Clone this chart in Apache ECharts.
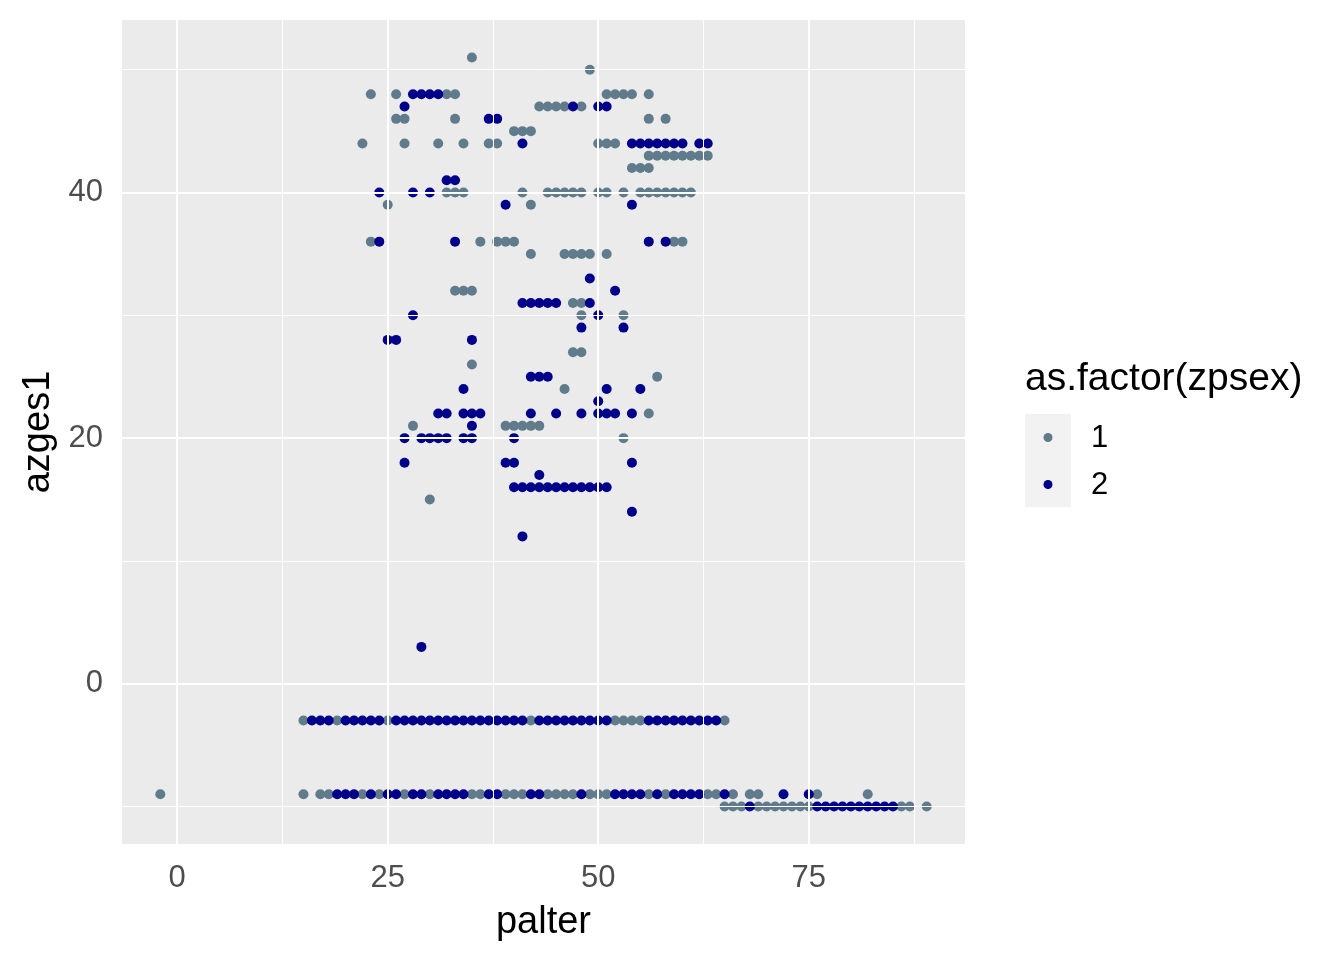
<!DOCTYPE html>
<html><head><meta charset="utf-8">
<script src="https://cdn.jsdelivr.net/npm/echarts@6/dist/echarts.min.js"></script>
<style>html,body{margin:0;padding:0;background:#fff}#c{width:1344px;height:960px}</style>
</head><body><div id="c"></div>
<script>
// zpsex = 1
const sex1Points = [
[35,51],[49,50],
[23,48],[26,48],[32,48],[33,48],[51,48],[52,48],[53,48],[54,48],[56,48],
[43,47],[44,47],[45,47],[46,47],[48,47],
[26,46],[27,46],[33,46],[56,46],[58,46],
[40,45],[41,45],[42,45],
[22,44],[27,44],[31,44],[34,44],[37,44],[38,44],[50,44],[51,44],[52,44],
[56,43],[57,43],[58,43],[59,43],[60,43],[61,43],[62,43],[63,43],
[54,42],[55,42],[56,42],
[32,40],[33,40],[34,40],[41,40],[44,40],[45,40],[46,40],[47,40],[48,40],[50,40],[51,40],[53,40],[55,40],[56,40],[57,40],[58,40],[59,40],[60,40],[61,40],
[25,39],[42,39],
[23,36],[36,36],[38,36],[39,36],[40,36],[59,36],[60,36],
[42,35],[46,35],[47,35],[48,35],[49,35],[51,35],
[33,32],[34,32],[35,32],
[47,31],[48,31],
[48,30],[53,30],
[47,27],[48,27],
[35,26],
[57,25],
[46,24],
[56,22],
[28,21],[39,21],[40,21],[41,21],[42,21],[43,21],
[53,20],
[30,15],
[15,-3],[19,-3],[25,-3],[42,-3],[52,-3],[53,-3],[54,-3],[55,-3],[65,-3],
[-2,-9],[15,-9],[17,-9],[18,-9],[22,-9],[24,-9],[27,-9],[30,-9],[35,-9],[36,-9],[39,-9],[40,-9],[41,-9],[44,-9],[45,-9],[46,-9],[47,-9],[49,-9],[50,-9],[51,-9],[56,-9],[58,-9],[63,-9],[64,-9],[66,-9],[68,-9],[69,-9],[76,-9],[82,-9],
[65,-10],[66,-10],[67,-10],[69,-10],[70,-10],[71,-10],[72,-10],[73,-10],[74,-10],[75,-10],[86,-10],[87,-10],[89,-10]
];
// zpsex = 2
const sex2Points = [
[28,48],[29,48],[30,48],[31,48],
[27,47],[47,47],[50,47],[51,47],
[37,46],[38,46],
[41,44],[54,44],[55,44],[56,44],[57,44],[58,44],[59,44],[60,44],[62,44],[63,44],
[32,41],[33,41],
[24,40],[28,40],[30,40],
[39,39],[54,39],
[24,36],[33,36],[56,36],[58,36],
[49,33],
[52,32],
[41,31],[42,31],[43,31],[44,31],[45,31],[49,31],
[28,30],[50,30],
[48,29],[53,29],
[25,28],[26,28],[35,28],
[42,25],[43,25],[44,25],
[34,24],[51,24],[55,24],
[50,23],
[31,22],[32,22],[34,22],[35,22],[36,22],[42,22],[45,22],[48,22],[50,22],[51,22],[52,22],[54,22],
[35,21],
[27,20],[29,20],[30,20],[31,20],[32,20],[34,20],[35,20],[40,20],
[27,18],[39,18],[40,18],[54,18],
[43,17],
[40,16],[41,16],[42,16],[43,16],[44,16],[45,16],[46,16],[47,16],[48,16],[49,16],[50,16],[51,16],
[54,14],
[41,12],
[29,3],
[16,-3],[17,-3],[18,-3],[20,-3],[21,-3],[22,-3],[23,-3],[24,-3],
[26,-3],[27,-3],[28,-3],[29,-3],[30,-3],[31,-3],[32,-3],[33,-3],[34,-3],[35,-3],[36,-3],[37,-3],[38,-3],[39,-3],[40,-3],[41,-3],
[43,-3],[44,-3],[45,-3],[46,-3],[47,-3],[48,-3],[49,-3],[50,-3],[51,-3],
[56,-3],[57,-3],[58,-3],[59,-3],[60,-3],[61,-3],[62,-3],[63,-3],[64,-3],
[19,-9],[20,-9],[21,-9],[23,-9],[25,-9],[26,-9],[28,-9],[29,-9],[31,-9],[32,-9],[33,-9],[34,-9],[37,-9],[38,-9],[42,-9],[43,-9],[48,-9],[52,-9],[53,-9],[54,-9],[55,-9],[57,-9],[59,-9],[60,-9],[61,-9],[62,-9],[65,-9],[72,-9],[75,-9],
[68,-10],[76,-10],[77,-10],[78,-10],[79,-10],[80,-10],[81,-10],[82,-10],[83,-10],[84,-10],[85,-10]
];
const xTicks = [0, 25, 50, 75];
const yTicks = [0, 20, 40];
const xMinor = [12.5, 37.5, 62.5, 87.5];
const yMinor = [-10, 10, 30, 50];
const groupNames = ['1', '2'];
const groupColors = ['#607B8B', '#00008B'];

const FONT = 'Liberation Sans, Arial, sans-serif';
const chart = echarts.init(document.getElementById('c'), null, {renderer: 'canvas'});

const gridLines = [];
xMinor.forEach(v => gridLines.push({xAxis: v, lineStyle: {width: 1}}));
yMinor.forEach(v => gridLines.push({yAxis: v, lineStyle: {width: 1}}));
xTicks.forEach(v => gridLines.push({xAxis: v, lineStyle: {width: 2}}));
yTicks.forEach(v => gridLines.push({yAxis: v, lineStyle: {width: 2}}));

const option = {
  animation: false,
  backgroundColor: '#ffffff',
  grid: {left: 122, top: 20, width: 843, height: 824, show: true, backgroundColor: '#EBEBEB', borderWidth: 0, containLabel: false},
  xAxis: {
    type: 'value', min: -6.55, max: 93.55,
    name: 'palter', nameLocation: 'middle', nameGap: 60,
    nameTextStyle: {color: '#000', fontSize: 38, fontFamily: FONT},
    axisLine: {show: false},
    axisTick: {show: true, length: 5, lineStyle: {color: '#333333', width: 2}, customValues: xTicks},
    axisLabel: {color: '#4D4D4D', fontSize: 31, fontFamily: FONT, margin: 19, customValues: xTicks},
    splitLine: {show: false}
  },
  yAxis: {
    type: 'value', min: -13.05, max: 54.05,
    name: 'azges1', nameLocation: 'middle', nameGap: 63, nameRotate: 90,
    nameTextStyle: {color: '#000', fontSize: 38, fontFamily: FONT},
    axisLine: {show: false},
    axisTick: {show: true, length: 5, lineStyle: {color: '#333333', width: 2}, customValues: yTicks},
    axisLabel: {color: '#4D4D4D', fontSize: 31, fontFamily: FONT, margin: 19, customValues: yTicks},
    splitLine: {show: false}
  },
  series: [
    {type: 'line', data: [], z: 1, silent: true,
     markLine: {silent: true, symbol: ['none','none'], label: {show: false}, animation: false,
       lineStyle: {color: '#FFFFFF', type: 'solid'}, emphasis: {disabled: true}, data: gridLines}},
    {name: groupNames[0], type: 'scatter', data: sex1Points, symbol: 'circle', symbolSize: 10, z: 3,
     itemStyle: {color: groupColors[0], opacity: 1}},
    {name: groupNames[1], type: 'scatter', data: sex2Points, symbol: 'circle', symbolSize: 10, z: 4,
     itemStyle: {color: groupColors[1], opacity: 1}}
  ],
  graphic: [
    {type: 'text', left: 1025, top: 360, style: {text: 'as.factor(zpsex)', fontSize: 39, fontFamily: FONT, fill: '#000'}},
    {type: 'rect', shape: {x: 1025, y: 414, width: 46, height: 93}, style: {fill: '#F2F2F2'}},
    {type: 'circle', shape: {cx: 1048, cy: 437.5, r: 4.5}, style: {fill: groupColors[0]}},
    {type: 'circle', shape: {cx: 1048, cy: 484.5, r: 4.5}, style: {fill: groupColors[1]}},
    {type: 'text', left: 1091, top: 423, style: {text: groupNames[0], fontSize: 31, fontFamily: FONT, fill: '#000'}},
    {type: 'text', left: 1091, top: 470, style: {text: groupNames[1], fontSize: 31, fontFamily: FONT, fill: '#000'}}
  ]
};
chart.setOption(option);
</script></body></html>
